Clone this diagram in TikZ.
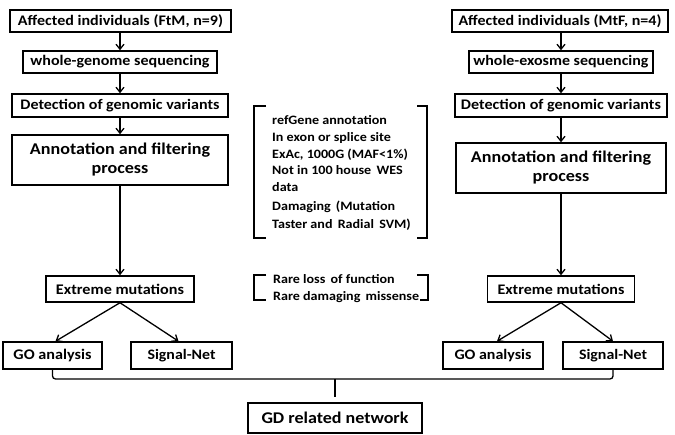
\documentclass[tikz,border=0pt]{standalone}
\usepackage{fontspec}
\setmainfont{Carlito}[FakeStretch=1.1]
\usetikzlibrary{arrows.meta}
\newcommand{\fw}[2]{\resizebox{#1pt}{!}{#2}}
\newcommand{\twol}[2]{\begin{tabular}{@{}c@{}}#1\\[-1pt]#2\end{tabular}}
\newcommand{\gp}{\ \hspace{2pt}}
\begin{document}
\begin{tikzpicture}[x=1pt,y=-1pt,
  box/.style={draw,line width=1.5pt,inner sep=0pt,font=\bfseries\fontsize{14}{17}\selectfont,align=center},
  arr/.style={line width=1.3pt,-{Straight Barb[length=5pt,width=8pt,line width=1.3pt]}},
  conn/.style={line width=1.3pt,rounded corners=3pt},
  brk/.style={line width=1.3pt},
  txt/.style={anchor=base west,inner sep=0pt,font=\bfseries\fontsize{12.8}{16}\selectfont}]
\useasboundingbox (0,0) rectangle (675,435);
% left column
\node[box,minimum width=221pt,minimum height=22pt] (a1) at (120.5,21) {\fw{205}{Affected individuals (FtM, n=9)}};
\node[box,minimum width=194pt,minimum height=22pt] (a2) at (120,62) {\fw{179}{whole-genome sequencing}};
\node[box,minimum width=216pt,minimum height=23pt] (a3) at (120,105.5) {\fw{199}{Detection of genomic variants}};
\node[box,minimum width=216pt,minimum height=50pt] (a4) at (120,160) {\fw{180}{\twol{Annotation and filtering}{process}}};
\node[box,minimum width=148pt,minimum height=26pt] (a5) at (120,289) {\fw{128}{Extreme mutations}};
\node[box,minimum width=99pt,minimum height=27pt] (a6) at (52.5,355.5) {\fw{78}{GO analysis}};
\node[box,minimum width=101pt,minimum height=27pt] (a7) at (181.5,355.5) {\fw{68}{Signal-Net}};
% right column
\node[box,minimum width=216pt,minimum height=22pt] (b1) at (560,21) {\fw{203}{Affected individuals (MtF, n=4)}};
\node[box,minimum width=184pt,minimum height=22pt] (b2) at (561,62) {\fw{175}{whole-exosme sequencing}};
\node[box,minimum width=212pt,minimum height=23pt] (b3) at (561,105.5) {\fw{200}{Detection of genomic variants}};
\node[box,minimum width=210pt,minimum height=50pt] (b4) at (561,168) {\fw{180}{\twol{Annotation and filtering}{process}}};
\node[box,minimum width=147pt,minimum height=26pt] (b5) at (561,289) {\fw{127}{Extreme mutations}};
\node[box,minimum width=100pt,minimum height=27pt] (b6) at (493,355.5) {\fw{77}{GO analysis}};
\node[box,minimum width=100pt,minimum height=27pt] (b7) at (613,355.5) {\fw{68}{Signal-Net}};
% bottom
\node[box,minimum width=174pt,minimum height=30pt] (gd) at (335,418) {\fw{147}{GD related network}};
% arrows left
\draw[arr] (a1.south -| a4.north) -- (a2.north -| a4.north);
\draw[arr] (a2.south -| a4.north) -- (a3.north -| a4.north);
\draw[arr] (a3.south -| a4.north) -- (a4.north);
\draw[arr] (a4.south) -- (a5.north);
\draw[arr] (a5.south) -- ([xshift=3pt]a6.north);
\draw[arr] (a5.south) -- ([xshift=-3pt]a7.north);
% arrows right
\draw[arr] (b1.south -| b4.north) -- (b2.north -| b4.north);
\draw[arr] (b2.south -| b4.north) -- (b3.north -| b4.north);
\draw[arr] (b3.south -| b4.north) -- (b4.north);
\draw[arr] (b4.south) -- (b5.north);
\draw[arr] (b5.south) -- ([xshift=4pt]b6.north);
\draw[arr] (b5.south) -- (b7.north);
% bottom connector
\coordinate (jn) at (335,379);
\coordinate (tk) at (335,397);
\draw[conn] (a6.south) |- (jn) -| (b7.south);
\draw[line width=1.3pt] (jn) -- (tk);
% middle text
\node[txt] (t1) at (272,125) {refGene annotation};
\node[txt] (t2) at (272,141.5) {In exon or splice site};
\node[txt] (t3) at (272,158.5) {ExAc, 1000G (MAF<1\%)};
\node[txt] (t4) at (272,175) {Not in 100 house\gp WES};
\node[txt] (t5) at (272,191.5) {data};
\node[txt] (t6) at (272,210.5) {Damaging\gp (Mutation};
\node[txt] (t7) at (272,229) {Taster and\gp Radial\gp SVM)};
\draw[brk] (266,106) -- (254,106) -- (254,238) -- (266,238);
\draw[brk] (417,106) -- (427,106) -- (427,238) -- (417,238);
\node[txt] (r1) at (273,284) {Rare loss\gp of function};
\node[txt] (r2) at (273,301) {Rare damaging\gp missense};
\draw[brk] (266,275) -- (254,275) -- (254,300) -- (266,300);
\draw[brk] (417,275) -- (428,275) -- (428,300) -- (420,300);
\end{tikzpicture}
\end{document}
